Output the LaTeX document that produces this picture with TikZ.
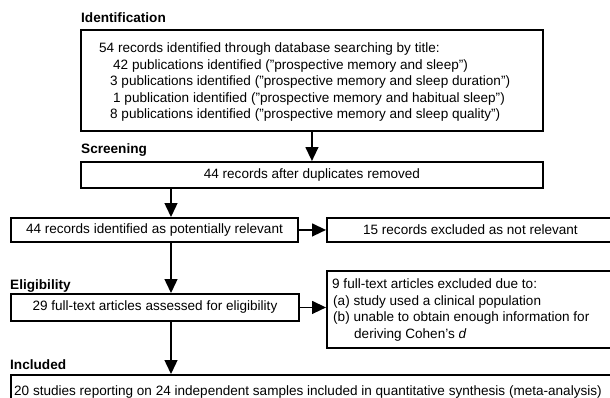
\documentclass[tikz,border=0pt]{standalone}
\usepackage{fontspec}
\setmainfont{Liberation Sans}
\usetikzlibrary{arrows.meta}
\begin{document}
\begin{tikzpicture}[x=1pt,y=-1pt,
  box/.style={draw=black, line width=1.9pt, rectangle, inner sep=0pt, anchor=north west, font=\fontsize{13.55}{16.5}\selectfont},
  txt/.style={inner sep=0pt, anchor=base west, font=\fontsize{13.55}{16.5}\selectfont},
  lab/.style={inner sep=0pt, anchor=base west, font=\fontsize{13.6}{16.5}\selectfont\bfseries},
  arr/.style={line width=1.4pt, -{Triangle[width=13pt,length=14pt]}}]
\useasboundingbox (0,0) rectangle (610,397);
\clip (0,0) rectangle (610,397);
\fill[white] (0,0) rectangle (610,397);

\coordinate (col) at (171,0);

% section labels
\node[lab] (lid) at (81,22) {Identification};
\node[lab] (lsc) at (81,153) {Screening};
\node[lab] (lel) at (10,289.5) {Eligibility};
\node[lab] (lin) at (10,369.5) {Included};

% boxes
\node[box, minimum width=462pt, minimum height=101pt] (b1) at (80,29) {};
\node[txt] (t11) at (99,52.5) {54 records identified through database searching by title:};
\node[txt] (t12) at (113,69) {42 publications identified ("prospective memory and sleep”)};
\node[txt] (t13) at (110,85.5) {3 publications identified ("prospective memory and sleep duration”)};
\node[txt] (t14) at (113,102) {1 publication identified ("prospective memory and habitual sleep”)};
\node[txt] (t15) at (110,118.5) {8 publications identified ("prospective memory and sleep quality”)};

\node[box, minimum width=462pt, minimum height=26pt] (b2) at (80,161) {44 records after duplicates removed};
\node[box, minimum width=287pt, minimum height=24pt] (b3) at (10,217) {44 records identified as potentially relevant};
\node[box, minimum width=287pt, minimum height=24pt] (b4) at (326,217) {15 records excluded as not relevant};
\node[box, minimum width=288pt, minimum height=27pt] (b5) at (10,293) {29 full-text articles assessed for eligibility};

\node[box, minimum width=287pt, minimum height=77pt] (b6) at (326,270) {};
\node[txt] (t61) at (332,288.5) {9 full-text articles excluded due to:};
\node[txt] (t62) at (333,305) {(a) study used a clinical population};
\node[txt] (t63) at (333,321.5) {(b) unable to obtain enough information for};
\node[txt] (t64) at (354,338) {deriving Cohen’s \textit{d}};

\node[box, minimum width=603pt, minimum height=40pt] (b7) at (10,374) {};
\node[txt] (t71) at (14,395) {20 studies reporting on 24 independent samples included in quantitative synthesis (meta-analysis)};

% connectors
\draw[arr] (b1.south) -- (b2.north);
\draw[arr] (b2.south -| col) -- (b3.north -| col);
\draw[arr] (b3.east) -- (b4.west);
\draw[arr] (b3.south -| col) -- (b5.north -| col);
\draw[arr] (b5.east) -- (b6.west |- b5.east);
\draw[arr] (b5.south -| col) -- (b7.north -| col);
\end{tikzpicture}
\end{document}
